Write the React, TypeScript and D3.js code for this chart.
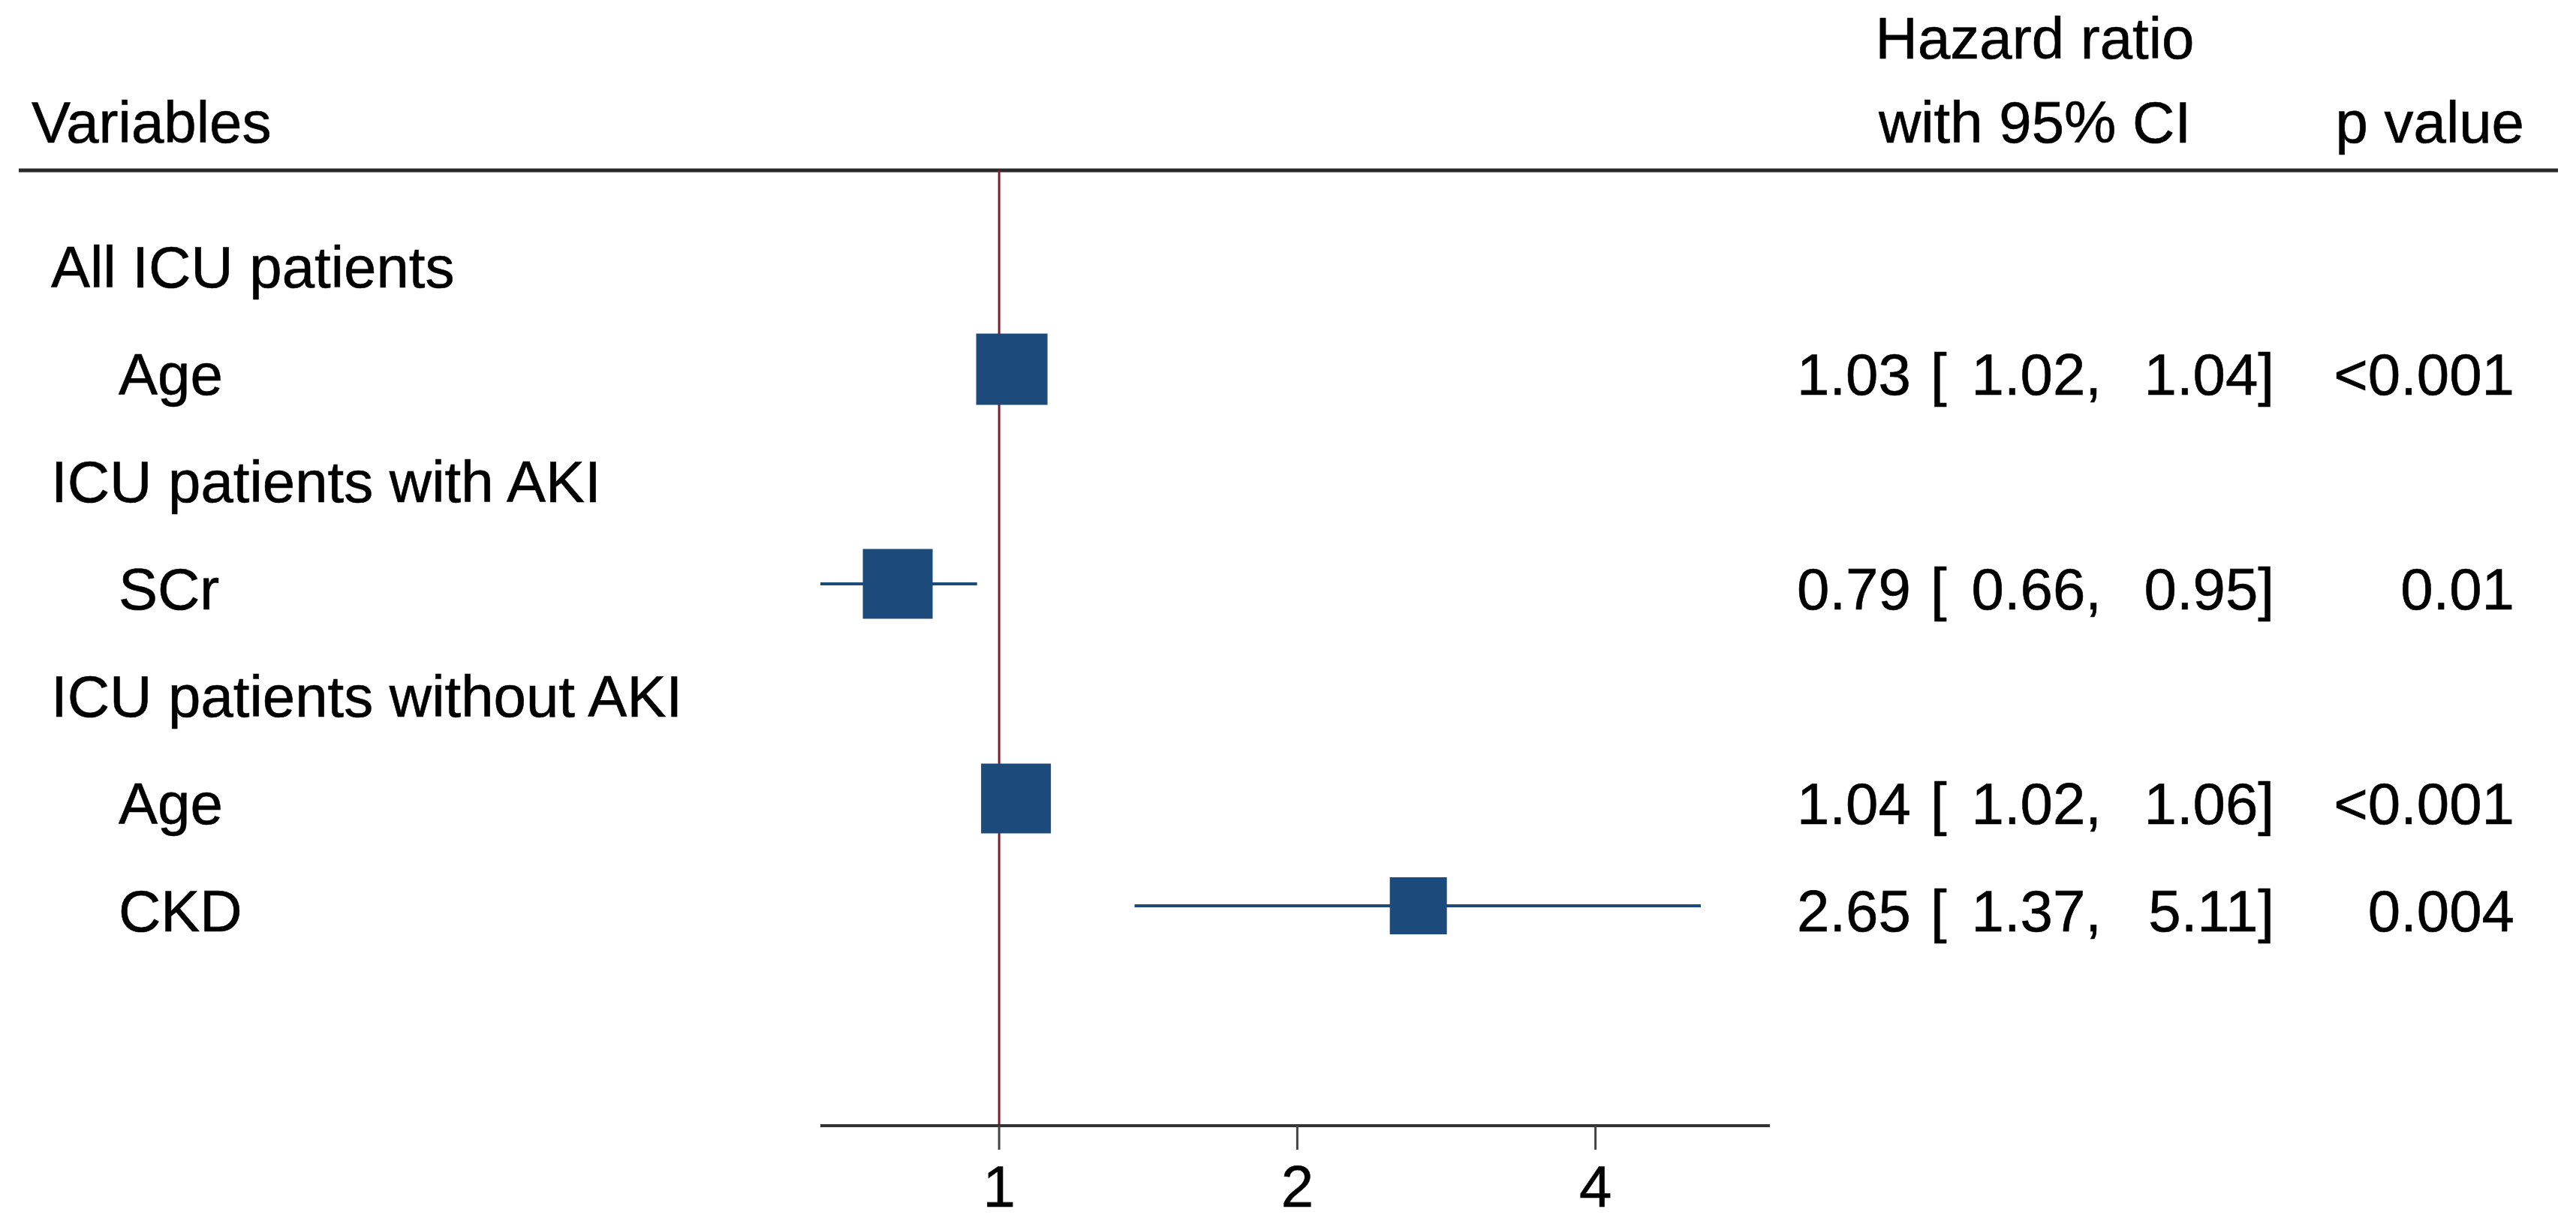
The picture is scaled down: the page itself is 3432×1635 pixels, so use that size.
import React from "react";
import * as d3 from "d3";

// ---- data ----
const rowLabels = [
  "All ICU patients",
  "Age",
  "ICU patients with AKI",
  "SCr",
  "ICU patients without AKI",
  "Age",
  "CKD",
];
const rowIsGroup = [true, false, true, false, true, false, false];
// estimates for each non-group row (row index -> values)
const estRows = [1, 3, 5, 6];
const hr = [1.03, 0.79, 1.04, 2.65];
const ciLow = [1.02, 0.66, 1.02, 1.37];
const ciHigh = [1.04, 0.95, 1.06, 5.11];
const pValues = ["<0.001", "0.01", "<0.001", "0.004"];
const markerSizes = [95, 93, 93, 76];
const xTicks = [1, 2, 4];
const axisDomain = [0.66, 6];

const W = 3432;
const H = 1635;
const FONT = "'Liberation Sans', Arial, Helvetica, sans-serif";
const FS = 78;
const NAVY = "#1b4a7b";
const RED = "#7a1f2e";
const INK = "#000";

export default function App() {
  const x = d3.scaleLog().domain(axisDomain).range([1093, 2358]);
  const yBase = d3.scaleLinear().domain([0, 6]).range([383, 1241]);
  const headerY = 227;
  const axisY = 1500;
  const fmt = d3.format(".2f");

  return (
    <svg
      width={W}
      height={H}
      style={{ position: "absolute", left: 0, top: 0, background: "#fff" }}
      fontFamily={FONT}
      fontSize={FS}
    >
      <rect x={0} y={0} width={W} height={H} fill="#fff" />
      <g fill={INK} stroke={INK} strokeWidth={0.6}>
        {/* header */}
        <text x={42} y={190}>Variables</text>
        <text x={2711} y={78} textAnchor="middle">Hazard ratio</text>
        <text x={2711} y={190} textAnchor="middle">with 95% CI</text>
        <text x={3363} y={190} textAnchor="end">p value</text>

        {/* row labels */}
        {rowLabels.map((lab, i) => (
          <text key={"l" + i} x={rowIsGroup[i] ? 68 : 158} y={yBase(i)}>
            {lab}
          </text>
        ))}

        {/* estimate text columns */}
        {estRows.map((r, k) => (
          <g key={"c" + k}>
            <text x={2394} y={yBase(r)}>{fmt(hr[k])}</text>
            <text x={2572} y={yBase(r)}>[</text>
            <text x={2800} y={yBase(r)} textAnchor="end">{fmt(ciLow[k]) + ","}</text>
            <text x={3030} y={yBase(r)} textAnchor="end">{fmt(ciHigh[k]) + "]"}</text>
            <text x={3350} y={yBase(r)} textAnchor="end">{pValues[k]}</text>
          </g>
        ))}

        {/* tick labels */}
        {xTicks.map((t) => (
          <text key={"tl" + t} x={x(t)} y={1608} textAnchor="middle">{String(t)}</text>
        ))}
      </g>

      <line x1={25} x2={3408} y1={headerY} y2={headerY} stroke="#2a2a2a" strokeWidth={5} />

      {/* no-effect line */}
      <line x1={x(1)} x2={x(1)} y1={headerY} y2={axisY} stroke={RED} strokeWidth={3} />

      {/* estimates */}
      {estRows.map((r, k) => {
        const cy = yBase(r) - 34;
        const s = markerSizes[k];
        return (
          <g key={"e" + k}>
            <line x1={x(ciLow[k])} x2={x(ciHigh[k])} y1={cy} y2={cy} stroke={NAVY} strokeWidth={4} />
            <rect x={x(hr[k]) - s / 2} y={cy - s / 2} width={s} height={s} fill={NAVY} />
          </g>
        );
      })}

      {/* x axis */}
      <line x1={x(axisDomain[0])} x2={x(axisDomain[1])} y1={axisY} y2={axisY} stroke="#333" strokeWidth={4} />
      {xTicks.map((t) => (
        <line key={"t" + t} x1={x(t)} x2={x(t)} y1={axisY} y2={axisY + 32} stroke="#444" strokeWidth={3} />
      ))}
    </svg>
  );
}
